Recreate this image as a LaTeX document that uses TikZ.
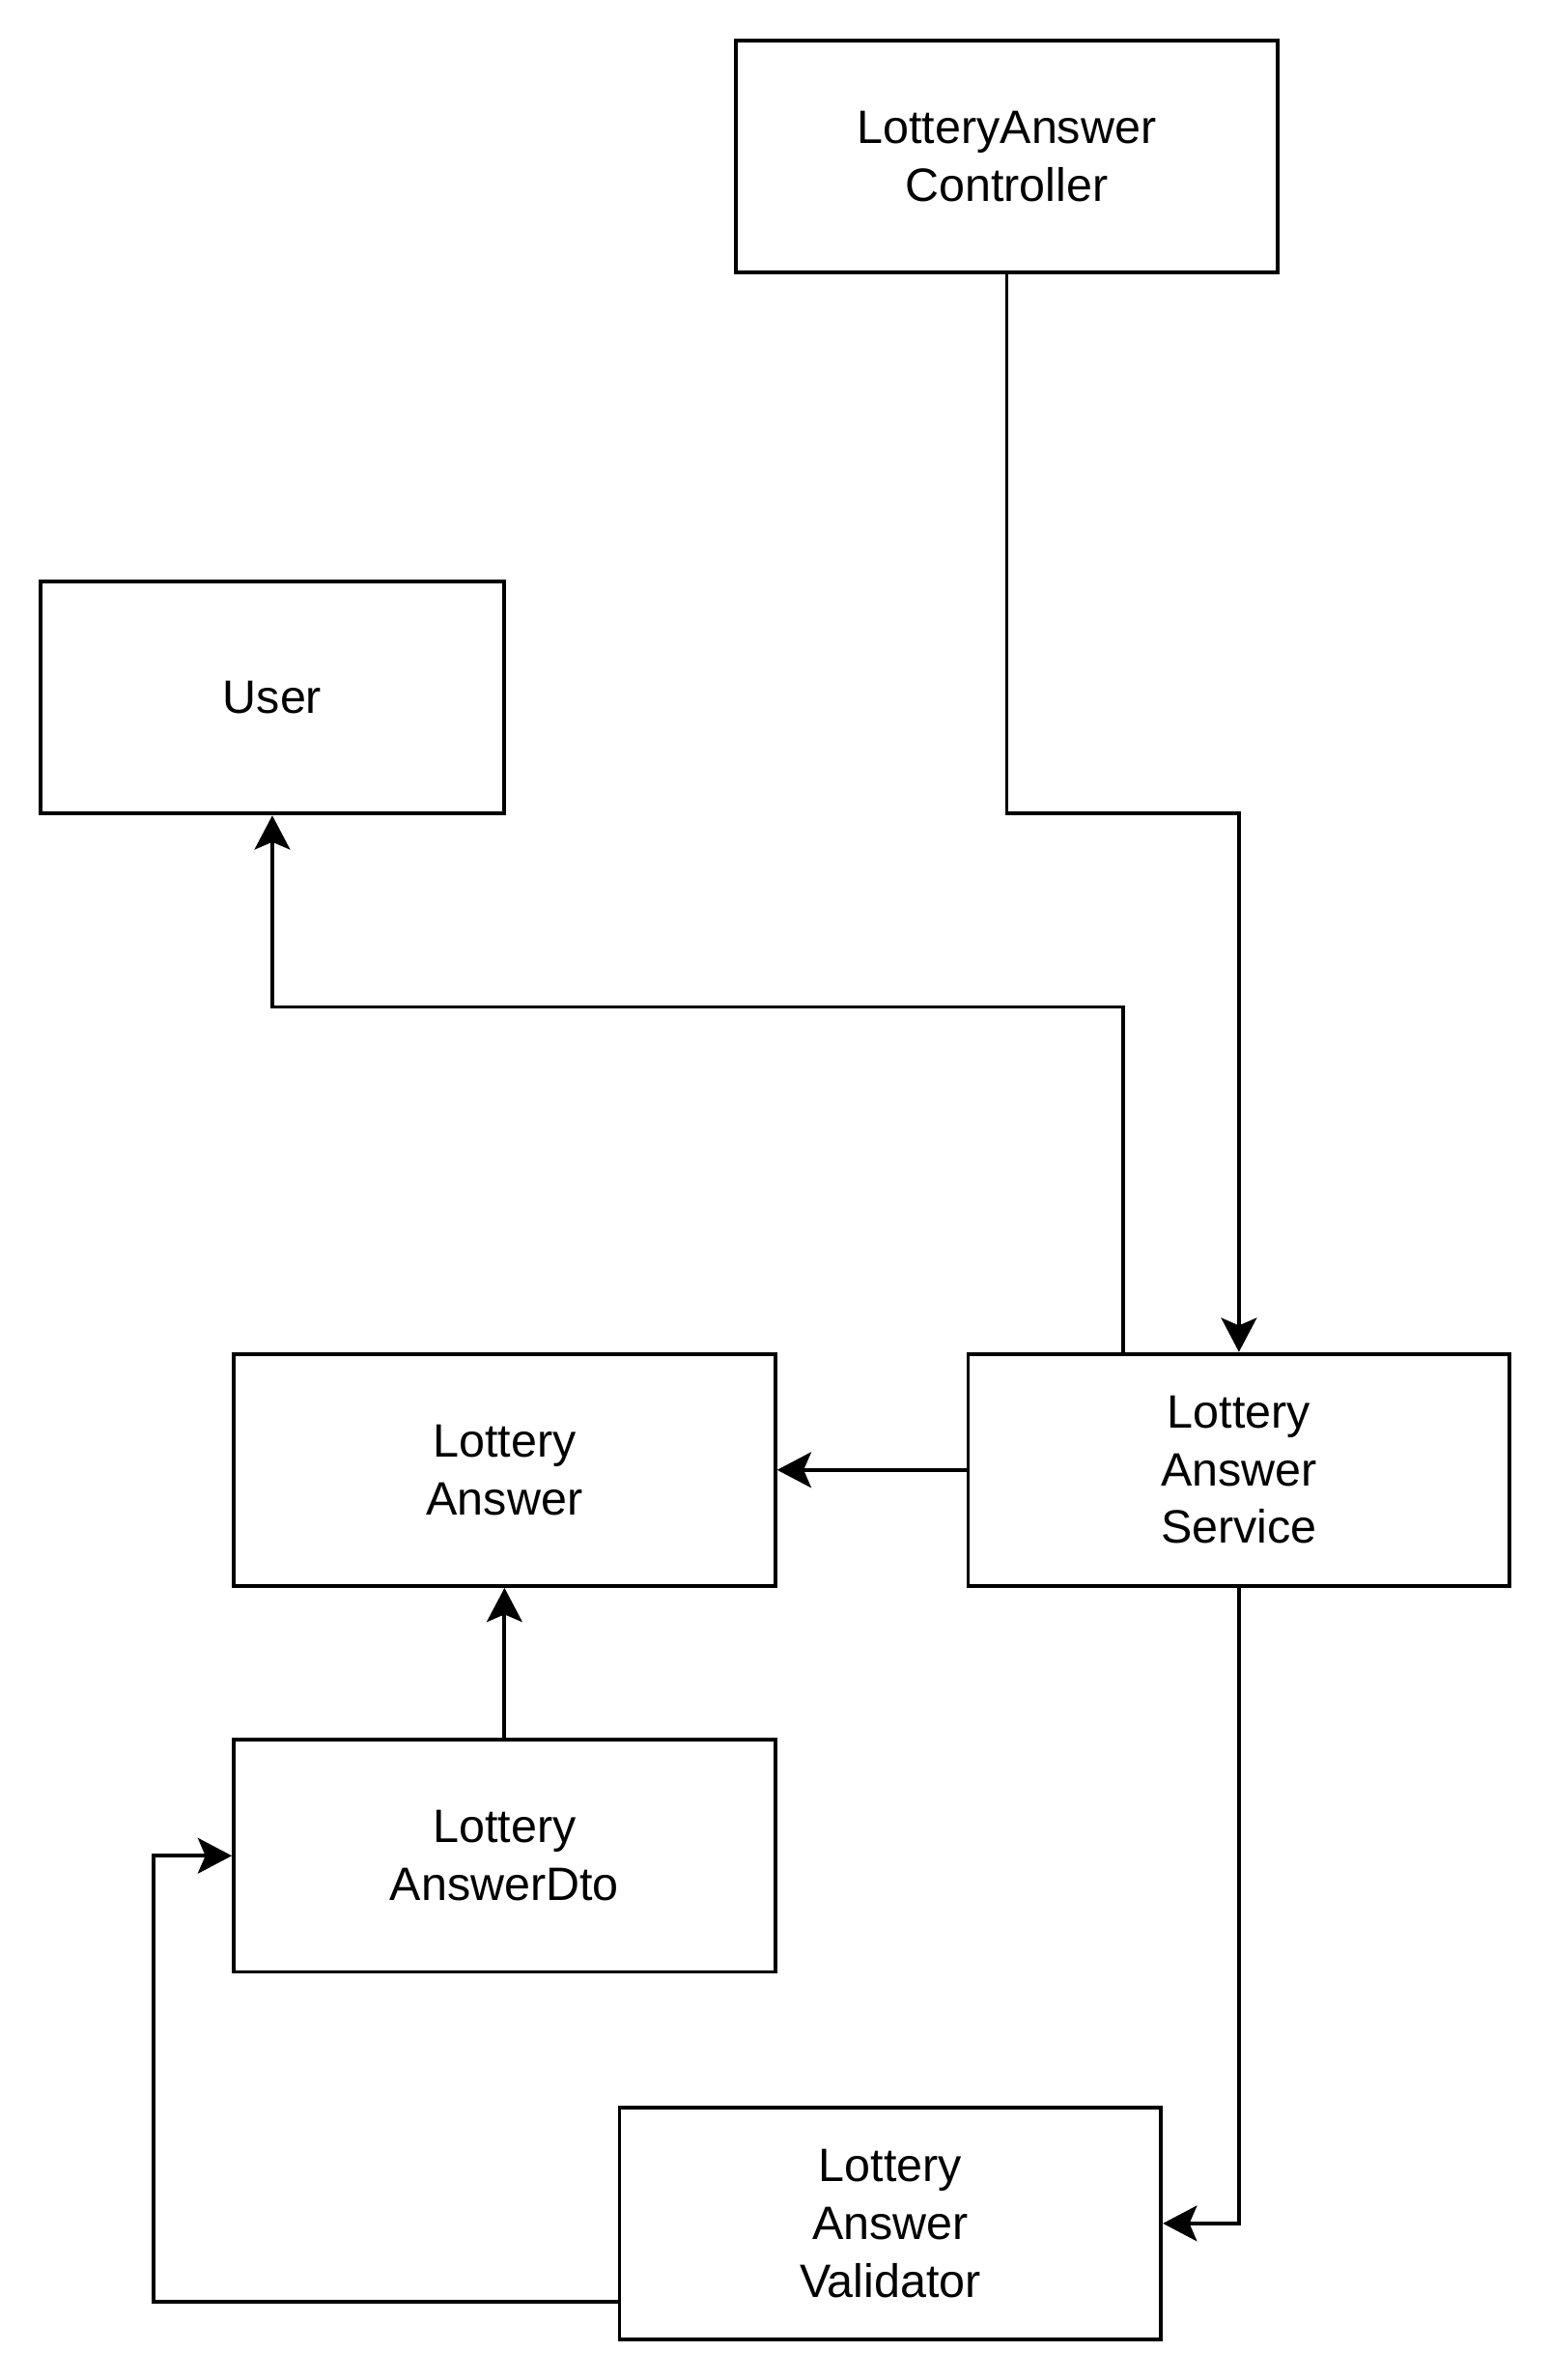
\documentclass[tikz,border=0pt]{standalone}
\usepackage{fontspec}
\setmainfont{Liberation Sans}
\usetikzlibrary{arrows.meta, positioning}

\begin{document}
\begin{tikzpicture}[>={Stealth[length=0.45cm, width=0.47cm, inset=0.1cm]}, line width=1.4pt,
  box/.style={rectangle, draw, minimum width=7.16cm, minimum height=3.07cm, align=center,
    inner sep=0pt, font=\fontsize{17.6}{21.7}\selectfont}]
\useasboundingbox (0,0) rectangle (20.48,-31.46);
\node (ctrl) [box] at (13.31,-2.07) {LotteryAnswer\\Controller};
\node (user) [box, minimum width=6.12cm] at (3.60,-9.22) {User};
\node (ans)  [box] at (6.67,-19.43) {Lottery\\Answer};
\node (svc)  [box] at (16.38,-19.43) {Lottery\\Answer\\Service};
\node (dto)  [box] at (6.67,-24.53) {Lottery\\AnswerDto};
\node (val)  [box] at (11.77,-29.39) {Lottery\\Answer\\Validator};

\draw[->] (ctrl.south) -- ++(0,-7.12) -| (svc.north);
\draw[->] ([xshift=-1.535cm]svc.north) -- ++(0,4.56) -| (user.south);
\draw[->] (svc.west) -- (ans.east);
\draw[->] (dto.north) -- (ans.south);
\draw[->] (svc.south) |- (val.east);
\draw[->] ([yshift=-1.03cm]val.west) -- ++(-6.14,0) |- (dto.west);
\end{tikzpicture}
\end{document}
